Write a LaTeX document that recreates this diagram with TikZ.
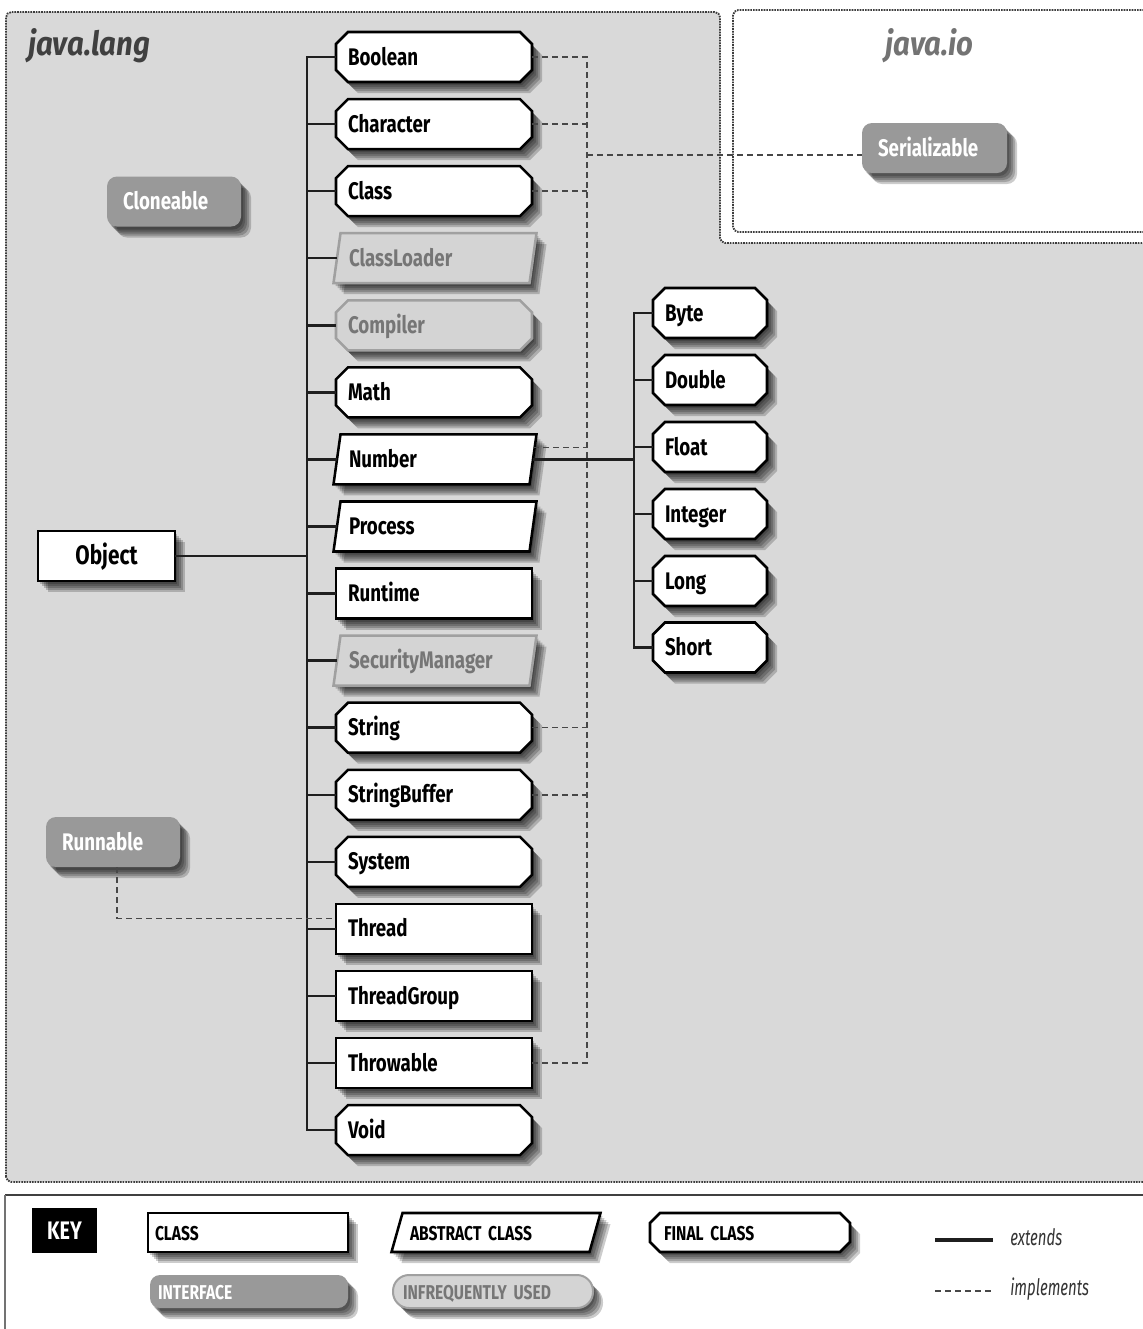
\documentclass[tikz,border=0pt]{standalone}
\usepackage{fontspec}
\setmainfont{Fira Sans}[FakeStretch=0.78]
\newfontfamily\titlefont{Fira Sans}[FakeStretch=0.88]
\newfontfamily\legendfont{Fira Sans}[FakeStretch=0.66]
\definecolor{langbg}{RGB}{217,217,217}
\definecolor{ifacefill}{RGB}{153,153,153}
\definecolor{infreqfill}{RGB}{212,212,212}
\definecolor{infreqdraw}{RGB}{160,160,160}
\definecolor{infreqtext}{RGB}{118,118,118}
\definecolor{regionc}{RGB}{60,60,60}
% geometry parameters (in px)
\def\hh{25}\def\slant{7}\def\chamf{12}\def\pad{12}\def\rad{7.5pt}
\newcommand\octp[3]{({#1+\chamf},{#3-\hh}) -- ({#1+#2-\chamf},{#3-\hh}) -- ({#1+#2},{#3-\hh+\chamf}) -- ({#1+#2},{#3+\hh-\chamf}) -- ({#1+#2-\chamf},{#3+\hh}) -- ({#1+\chamf},{#3+\hh}) -- ({#1},{#3+\hh-\chamf}) -- ({#1},{#3-\hh+\chamf}) -- cycle}
\newcommand\parp[3]{({#1+\slant/2},{#3-\hh}) -- ({#1+#2+\slant/2},{#3-\hh}) -- ({#1+#2-\slant/2},{#3+\hh}) -- ({#1-\slant/2},{#3+\hh}) -- cycle}
\newcommand\rectp[3]{({#1},{#3-\hh}) rectangle ({#1+#2},{#3+\hh})}
\newcommand\dropsh[1]{\foreach \o in {2,4,6,8,10}{\fill[black,opacity=0.2,shift={(\o,\o+1)},shadowsty] #1;}}
\newcommand\mkcls[8]{%
  \dropsh{#1{#5}{#6}{#7}}
  \path[#2] #1{#5}{#6}{#7};
  \pgfmathsetmacro\tw{(#6-2*\pad)*0.75}%
  \pgfmathsetmacro\ix{\pad*0.75}%
  \pgfmathsetmacro\mh{2*\hh*0.75}%
  \node[#3, text width=\tw pt, inner xsep=\ix pt, minimum height=\mh pt] (#4) at ({#5+#6/2},#7) {#8};
}
\begin{document}
\begin{tikzpicture}[x=0.75pt,y=-0.75pt,
  shadowsty/.style={},
  ext/.style={draw=black!88, line width=1.9pt},
  impl/.style={draw=black!72, line width=1.1pt, dash pattern=on 4.5pt off 3pt},
  box/.style={fill=white, draw=black, line width=1.9pt},
  infreq/.style={fill=infreqfill, draw=infreqdraw, line width=1.9pt},
  iface/.style={fill=ifacefill, rounded corners=\rad},
  pill/.style={fill=infreqfill, draw=infreqdraw, line width=1.5pt, rounded corners=\rad},
  region/.style={draw=regionc, line width=1.4pt, dash pattern=on 1.2pt off 0.8pt, rounded corners=4pt},
  lbl/.style={font=\bfseries\fontsize{18}{20}\selectfont, text=black, inner ysep=0pt, align=left, text height=16pt, text depth=4pt},
  lblgray/.style={lbl, text=infreqtext},
  lblwhite/.style={lbl, text=white},
  keylbl/.style={font=\bfseries\fontsize{15}{17}\selectfont, text=black, inner ysep=0pt, align=left, text height=15pt, text depth=3pt},
  keygray/.style={keylbl, text=infreqtext},
  keywhite/.style={keylbl, text=white},
  title/.style={font=\titlefont\bfseries\itshape\fontsize{25}{28}\selectfont, anchor=base west, inner sep=0pt},
  legtxt/.style={font=\legendfont\itshape\fontsize{17}{19}\selectfont, text=black!80, anchor=west, inner sep=0pt},
]
\useasboundingbox (0,0) rectangle (1143,1329);
\clip (0,0) rectangle (1143,1329);
\fill[white] (0,0) rectangle (1143,1329);

% package regions
\path[region, fill=langbg] (6,1182) -- (6,12) -- (720,12) -- (720,243) -- (1160,243) -- (1160,1182) -- cycle;
\path[region, fill=white] (1160,232) -- (733,232) -- (733,10) -- (1160,10);
\draw[black!75, line width=1.8pt] (1160,1195) -- (5,1195);
\draw[black!55, line width=0.8pt] (5,1195) -- (5,1340);

\node[title, text=black!75] (langtitle) at (28,55) {java.lang};
\node[title, text=black!55] (iotitle) at (885,55) {java.io};

% Object
\mkcls{\rectp}{box}{lbl}{Object}{38}{137}{556}{\hfill\fontsize{20}{22}\selectfont Object\hfill\null}

% java.lang classes
\mkcls{\octp}{box}{lbl}{Boolean}{336}{196}{57}{Boolean}
\mkcls{\octp}{box}{lbl}{Character}{336}{196}{124.1}{Character}
\mkcls{\octp}{box}{lbl}{Class}{336}{196}{191.1}{Class}
\mkcls{\parp}{infreq}{lblgray}{ClassLoader}{337}{196}{258.2}{ClassLoader}
\mkcls{\octp}{infreq}{lblgray}{Compiler}{336}{196}{325.3}{Compiler}
\mkcls{\octp}{box}{lbl}{Math}{336}{196}{392.4}{Math}
\mkcls{\parp}{box}{lbl}{Number}{337}{196}{459.4}{Number}
\mkcls{\parp}{box}{lbl}{Process}{337}{196}{526.5}{Process}
\mkcls{\rectp}{box}{lbl}{Runtime}{336}{196}{593.6}{Runtime}
\mkcls{\parp}{infreq}{lblgray}{SecurityManager}{337}{196}{660.6}{SecurityManager}
\mkcls{\octp}{box}{lbl}{String}{336}{196}{727.7}{String}
\mkcls{\octp}{box}{lbl}{StringBuffer}{336}{196}{794.8}{StringBuffer}
\mkcls{\octp}{box}{lbl}{System}{336}{196}{861.8}{System}
\mkcls{\rectp}{box}{lbl}{Thread}{336}{196}{928.9}{Thread}
\mkcls{\rectp}{box}{lbl}{ThreadGroup}{336}{196}{996}{ThreadGroup}
\mkcls{\rectp}{box}{lbl}{Throwable}{336}{196}{1063}{Throwable}
\mkcls{\octp}{box}{lbl}{Void}{336}{196}{1130.1}{Void}

% Number subclasses
\mkcls{\octp}{box}{lbl}{Byte}{653}{114}{313}{Byte}
\mkcls{\octp}{box}{lbl}{Double}{653}{114}{380}{Double}
\mkcls{\octp}{box}{lbl}{Float}{653}{114}{447}{Float}
\mkcls{\octp}{box}{lbl}{Integer}{653}{114}{514}{Integer}
\mkcls{\octp}{box}{lbl}{Long}{653}{114}{581}{Long}
\mkcls{\octp}{box}{lbl}{Short}{653}{114}{647.5}{Short}

% interfaces
\tikzset{shadowsty/.style={rounded corners=7.5pt}}
\def\pad{16}
\mkcls{\rectp}{iface}{lblwhite}{Cloneable}{107}{134}{201.5}{Cloneable}
\mkcls{\rectp}{iface}{lblwhite}{Serializable}{862}{145}{148}{Serializable}
\mkcls{\rectp}{iface}{lblwhite}{Runnable}{46}{134}{842}{Runnable}
\tikzset{shadowsty/.style={}}

% extends connectors
\coordinate (trunk) at (307,556);
\draw[ext] (Object.east) -- (trunk);
\foreach \n in {Boolean,Character,Class,ClassLoader,Compiler,Math,Number,Process,Runtime,SecurityManager,String,StringBuffer,System,Thread,ThreadGroup,Throwable,Void}
  \draw[ext] (trunk) |- (\n.west);
\coordinate (btrunk) at (634,459.4);
\draw[ext] (Number.east) -- (btrunk);
\foreach \n in {Byte,Double,Float,Integer,Long,Short}
  \draw[ext] (btrunk) |- (\n.west);

% implements connectors
\coordinate (itop) at (587,57);
\coordinate (ibot) at (587,1063);
\coordinate (iser) at (587,155);
\draw[impl] (Boolean.east) -- (itop) -- (ibot) -- (Throwable.east);
\foreach \n in {Character,Class,String,StringBuffer}
  \draw[impl] (\n.east) -- (\n.east -| itop);
\draw[impl] ([yshift=9pt]Number.east) -- ([yshift=9pt]Number.east -| itop);
\draw[impl] (iser) -- (iser -| Serializable.west);
\draw[impl] ([xshift=3pt]Runnable.south) |- ([yshift=8pt]Thread.west);

% key
\node[fill=black, text=white, font=\bfseries\fontsize{19}{21}\selectfont, minimum width=48.75pt, minimum height=33.75pt, inner sep=0pt] (keyhdr) at (64.5,1230.5) {KEY};
\def\hh{19.5}\def\slant{11}\def\chamf{10}
\def\pad{7}
\mkcls{\rectp}{box}{keylbl}{kclass}{148}{200}{1232.5}{CLASS}
\def\pad{13}
\mkcls{\parp}{box}{keylbl}{kabstract}{397}{198}{1232.5}{ABSTRACT CLASS}
\def\pad{14}
\mkcls{\octp}{box}{keylbl}{kfinal}{650}{200}{1232.5}{FINAL CLASS}
\def\hh{16.5}
\tikzset{shadowsty/.style={rounded corners=7.5pt}}
\def\pad{8}
\mkcls{\rectp}{iface}{keywhite}{kiface}{150}{198}{1291.5}{INTERFACE}
\def\rad{12pt}
\tikzset{shadowsty/.style={rounded corners=12pt}}
\def\pad{10}
\mkcls{\rectp}{pill}{keygray}{kinfreq}{393}{200}{1291.5}{INFREQUENTLY USED}

\coordinate (le1) at (935,1240);
\coordinate (le2) at (993,1240);
\coordinate (li1) at (935,1291);
\coordinate (li2) at (993,1291);
\draw[ext, line width=2.4pt] (le1) -- (le2);
\draw[impl] (li1) -- (li2);
\node[legtxt] (lext) at (1010,1237) {extends};
\node[legtxt] (limp) at (1010,1289) {implements};
\end{tikzpicture}
\end{document}
